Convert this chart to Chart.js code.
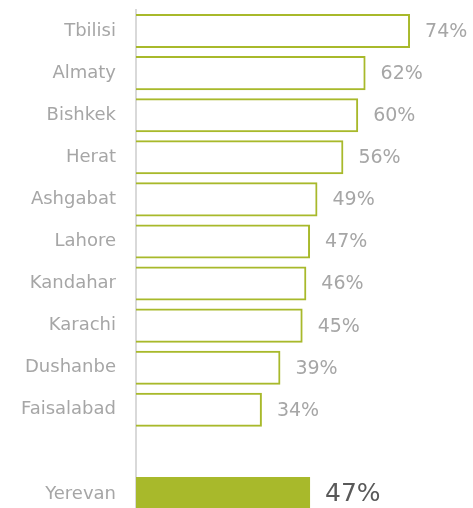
<!DOCTYPE html>
<html>
<head>
<meta charset="utf-8">
<script src="https://cdn.jsdelivr.net/npm/chart.js@4"></script>
<style>
  html, body { margin: 0; padding: 0; background: #fff; overflow: hidden; }
  #wrap { width: 473px; height: 520px; }
</style>
</head>
<body>
<div id="wrap"><canvas id="cityChart"></canvas></div>
<script>
// Values; the blank entry is the gap before Yerevan
const cities = ['Tbilisi', 'Almaty', 'Bishkek', 'Herat', 'Ashgabat', 'Lahore', 'Kandahar', 'Karachi', 'Dushanbe', 'Faisalabad', '', 'Yerevan'];
const shares = [74, 62, 60, 56, 49, 47, 46, 45, 39, 34, null, 47];
const highlight = 'Yerevan';

const green = '#a8b92b';
const grey = '#a6a6a6';
const fontFamily = '"DejaVu Sans", sans-serif';

// Draws the "74%" style labels to the right of each bar
const valueLabels = {
    id: 'valueLabels',
    afterDatasetsDraw(chart) {
        const ctx = chart.ctx;
        const meta = chart.getDatasetMeta(0);
        ctx.save();
        ctx.textBaseline = 'middle';
        ctx.textAlign = 'left';
        meta.data.forEach((bar, i) => {
            if (shares[i] == null) return;
            const isMain = cities[i] === highlight;
            ctx.font = (isMain ? '25px ' : '19px ') + fontFamily;
            ctx.fillStyle = isMain ? '#595959' : grey;
            ctx.fillText(shares[i] + '%', bar.x + 15, bar.y + 1);
        });
        ctx.restore();
    }
};

new Chart(document.getElementById('cityChart'), {
    type: 'bar',
    data: {
        labels: cities,
        datasets: [{
            data: shares,
            backgroundColor: cities.map(c => c === highlight ? green : 'rgba(255,255,255,0)'),
            borderColor: green,
            borderWidth: cities.map(c => c === highlight ? 0 : 2),
            borderSkipped: 'start',
            barPercentage: 0.81,
            categoryPercentage: 1
        }]
    },
    options: {
        indexAxis: 'y',
        responsive: true,
        maintainAspectRatio: false,
        animation: false,
        layout: { padding: { top: 10, bottom: 5, left: 0, right: 0 } },
        plugins: {
            legend: { display: false },
            tooltip: { enabled: false }
        },
        scales: {
            x: {
                display: false,
                min: 0,
                max: 91
            },
            y: {
                afterFit(scale) {
                    scale.width = 136;
                    scale.paddingTop = 0;
                    scale.paddingBottom = 0;
                },
                grid: { display: false, drawTicks: false },
                border: { display: true, color: '#d9d9d9', width: 2 },
                ticks: {
                    padding: 20,
                    color: grey,
                    font: { family: fontFamily, size: 18 }
                }
            }
        }
    },
    plugins: [valueLabels]
});
</script>
</body>
</html>
